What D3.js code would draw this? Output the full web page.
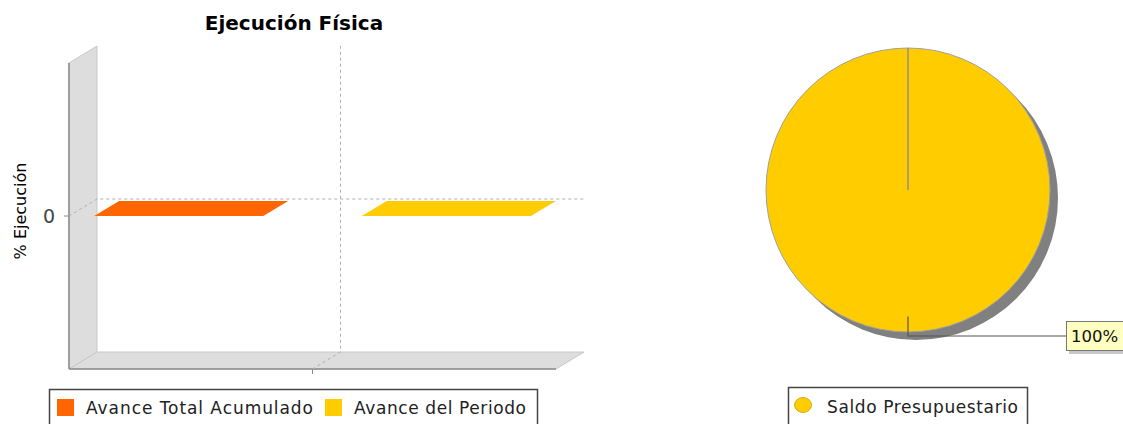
<!DOCTYPE html>
<html>
<head>
<meta charset="utf-8">
<script src="https://cdn.jsdelivr.net/npm/d3@7"></script>
<style>
  body { margin: 0; background: #fff; }
  svg { display: block; }
  text { font-family: "DejaVu Sans", sans-serif; }
</style>
</head>
<body>
<svg id="chart" width="1123" height="424"></svg>
<script>
// ---- data ----
const title = "Ejecución Física";
const yAxisLabel = "% Ejecución";
const categories = [""];
const seriesNames = ["Avance Total Acumulado", "Avance del Periodo"];
const avanceTotal = [0];
const avancePeriodo = [0];
const yTicks = [0];
const pieLabels = ["Saldo Presupuestario"];
const pieValues = [100];
const pieLabelTexts = ["100%"];

const barColors = ["#ff6600", "#ffcc00"];
const pieColors = ["#ffcc00"];

const svg = d3.select("#chart");

// ---- bar chart (3D style) ----
const front = { left: 69, right: 556, top: 63, bottom: 369 };
const off = { dx: 28, dy: 17 };
const barOff = { dx: 25, dy: 15 };

const y = d3.scaleLinear().domain([-1, 1]).range([front.bottom, front.top]);
const xCat = d3.scaleBand().domain(categories).range([front.left, front.right]).paddingOuter(0.0575).paddingInner(0);
const xSer = d3.scaleBand().domain(seriesNames).range([0, xCat.bandwidth()]).paddingInner(0.368);

const g = svg.append("g");

// left wall
g.append("path")
  .attr("d", `M${front.left},${front.top} L${front.left + off.dx},${front.top - off.dy} L${front.left + off.dx},${front.bottom - off.dy} L${front.left},${front.bottom} Z`)
  .attr("fill", "#dddddd").attr("stroke", "#c8c8c8").attr("stroke-width", 1);
// floor
g.append("path")
  .attr("d", `M${front.left},${front.bottom} L${front.left + off.dx},${front.bottom - off.dy} L${front.right + off.dx},${front.bottom - off.dy} L${front.right},${front.bottom} Z`)
  .attr("fill", "#dddddd").attr("stroke", "#c8c8c8").attr("stroke-width", 1);

// axis lines (front edges)
g.append("line").attr("x1", front.left).attr("x2", front.left)
  .attr("y1", front.top).attr("y2", front.bottom).attr("stroke", "#8a8a8a").attr("stroke-width", 1.5);
g.append("line").attr("x1", front.left).attr("x2", front.right)
  .attr("y1", front.bottom).attr("y2", front.bottom).attr("stroke", "#8a8a8a").attr("stroke-width", 1.5);

// horizontal gridlines (value)
yTicks.forEach(t => {
  const yy = y(t);
  g.append("path")
    .attr("d", `M${front.left},${yy} L${front.left + off.dx},${yy - off.dy} L${front.right + off.dx},${yy - off.dy}`)
    .attr("fill", "none").attr("stroke", "#b0b0b0").attr("stroke-dasharray", "3,3").attr("stroke-width", 1);
  g.append("line").attr("x1", front.left - 5).attr("x2", front.left).attr("y1", yy).attr("y2", yy)
    .attr("stroke", "#8a8a8a");
  g.append("text").attr("x", front.left - 14).attr("y", yy).attr("dy", "0.36em")
    .attr("text-anchor", "end").attr("font-size", 19).attr("fill", "#444").text(d3.format("d")(t));
});

// category gridlines
categories.forEach(c => {
  const cx = xCat(c) + xCat.bandwidth() / 2;
  g.append("path")
    .attr("d", `M${cx},${front.bottom} L${cx + off.dx},${front.bottom - off.dy} L${cx + off.dx},${front.top - off.dy}`)
    .attr("fill", "none").attr("stroke", "#b0b0b0").attr("stroke-dasharray", "3,3").attr("stroke-width", 1);
  g.append("line").attr("x1", cx).attr("x2", cx).attr("y1", front.bottom).attr("y2", front.bottom + 5)
    .attr("stroke", "#8a8a8a");
});

// bars
const seriesData = [avanceTotal, avancePeriodo];
categories.forEach((c, ci) => {
  seriesNames.forEach((s, si) => {
    const v = seriesData[si][ci];
    const x0 = xCat(c) + xSer(s);
    const w = xSer.bandwidth();
    const y0 = y(0), y1 = y(v);
    const top = Math.min(y0, y1), bot = Math.max(y0, y1);
    const col = barColors[si];
    g.append("path")
      .attr("d", `M${x0 + w},${top} L${x0 + w + barOff.dx},${top - barOff.dy} L${x0 + w + barOff.dx},${bot - barOff.dy} L${x0 + w},${bot} Z`)
      .attr("fill", d3.color(col).darker(0.7));
    g.append("rect").attr("x", x0).attr("y", top).attr("width", w).attr("height", bot - top).attr("fill", col);
    g.append("path")
      .attr("d", `M${x0},${top} L${x0 + barOff.dx},${top - barOff.dy} L${x0 + w + barOff.dx},${top - barOff.dy} L${x0 + w},${top} Z`)
      .attr("fill", col);
  });
});

// title
svg.append("text").attr("x", 294).attr("y", 30).attr("text-anchor", "middle")
  .attr("font-size", 20).attr("font-weight", "bold").attr("fill", "#000").text(title);

// y axis label
svg.append("text").attr("transform", "translate(26,211) rotate(-90)").attr("text-anchor", "middle")
  .attr("font-size", 16).attr("fill", "#000").text(yAxisLabel);

// legend for bars
const lg = svg.append("g");
lg.append("rect").attr("x", 49.5).attr("y", 389.5).attr("width", 488).attr("height", 40)
  .attr("fill", "#fff").attr("stroke", "#444").attr("stroke-width", 1.5);
const legendX = [57, 325];
const legendW = [227, 172];
seriesNames.forEach((s, i) => {
  lg.append("rect").attr("x", legendX[i]).attr("y", 399).attr("width", 17).attr("height", 17).attr("fill", barColors[i]);
  lg.append("text").attr("x", legendX[i] + 29).attr("y", 414).attr("font-size", 17)
    .attr("textLength", legendW[i]).attr("lengthAdjust", "spacing").attr("fill", "#222").text(s);
});

// ---- pie chart ----
const pc = { x: 908, y: 190, r: 142 };
const shadow = { dx: 8, dy: 8 };
const pie = d3.pie().sort(null).value(d => d)(pieValues);
const arc = d3.arc().innerRadius(0).outerRadius(pc.r);

const pg = svg.append("g").attr("transform", `translate(${pc.x},${pc.y})`);
pg.selectAll("path.shadow").data(pie).join("path").attr("class", "shadow")
  .attr("transform", `translate(${shadow.dx},${shadow.dy})`)
  .attr("d", arc).attr("fill", "#808080");
pg.selectAll("path.slice").data(pie).join("path").attr("class", "slice")
  .attr("d", arc).attr("fill", (d, i) => pieColors[i]).attr("stroke", "#a0a0a0").attr("stroke-width", 1);
pie.forEach(d => {
  pg.append("line").attr("x1", 0).attr("y1", 0)
    .attr("x2", pc.r * Math.sin(d.startAngle)).attr("y2", -pc.r * Math.cos(d.startAngle))
    .attr("stroke", "#909090").attr("stroke-width", 1.5);
});

// labels with link lines
pie.forEach((d, i) => {
  const a = (d.startAngle + d.endAngle) / 2;
  const px1 = pc.x + 0.89 * pc.r * Math.sin(a), py1 = pc.y - 0.89 * pc.r * Math.cos(a);
  const px2 = pc.x + (pc.r + 4) * Math.sin(a), py2 = pc.y - (pc.r + 4) * Math.cos(a);
  const lx = 1066;
  svg.append("path").attr("d", `M${px1},${py1} L${px2},${py2} L${lx},${py2}`)
    .attr("fill", "none").attr("stroke", "#555").attr("stroke-width", 1.2);
  svg.append("rect").attr("x", lx + 3).attr("y", py2 - 12).attr("width", 62).attr("height", 30).attr("fill", "#c8c8c8");
  svg.append("rect").attr("x", lx + 0.5).attr("y", py2 - 14.5).attr("width", 62).attr("height", 29)
    .attr("fill", "#ffffc0").attr("stroke", "#777").attr("stroke-width", 1);
  svg.append("text").attr("x", lx + 5).attr("y", py2 + 6).attr("font-size", 16.5).attr("fill", "#111").text(pieLabelTexts[i]);
});

// pie legend
const plg = svg.append("g");
plg.append("rect").attr("x", 788.5).attr("y", 387.5).attr("width", 239).attr("height", 42)
  .attr("fill", "#fff").attr("stroke", "#444").attr("stroke-width", 1.5);
pieLabels.forEach((s, i) => {
  plg.append("ellipse").attr("cx", 803).attr("cy", 405).attr("rx", 8.5).attr("ry", 7.5)
    .attr("fill", pieColors[i]).attr("stroke", "#c9a000").attr("stroke-width", 0.8);
  plg.append("text").attr("x", 827).attr("y", 413).attr("font-size", 17)
    .attr("textLength", 191).attr("lengthAdjust", "spacing").attr("fill", "#222").text(s);
});
</script>
</body>
</html>
